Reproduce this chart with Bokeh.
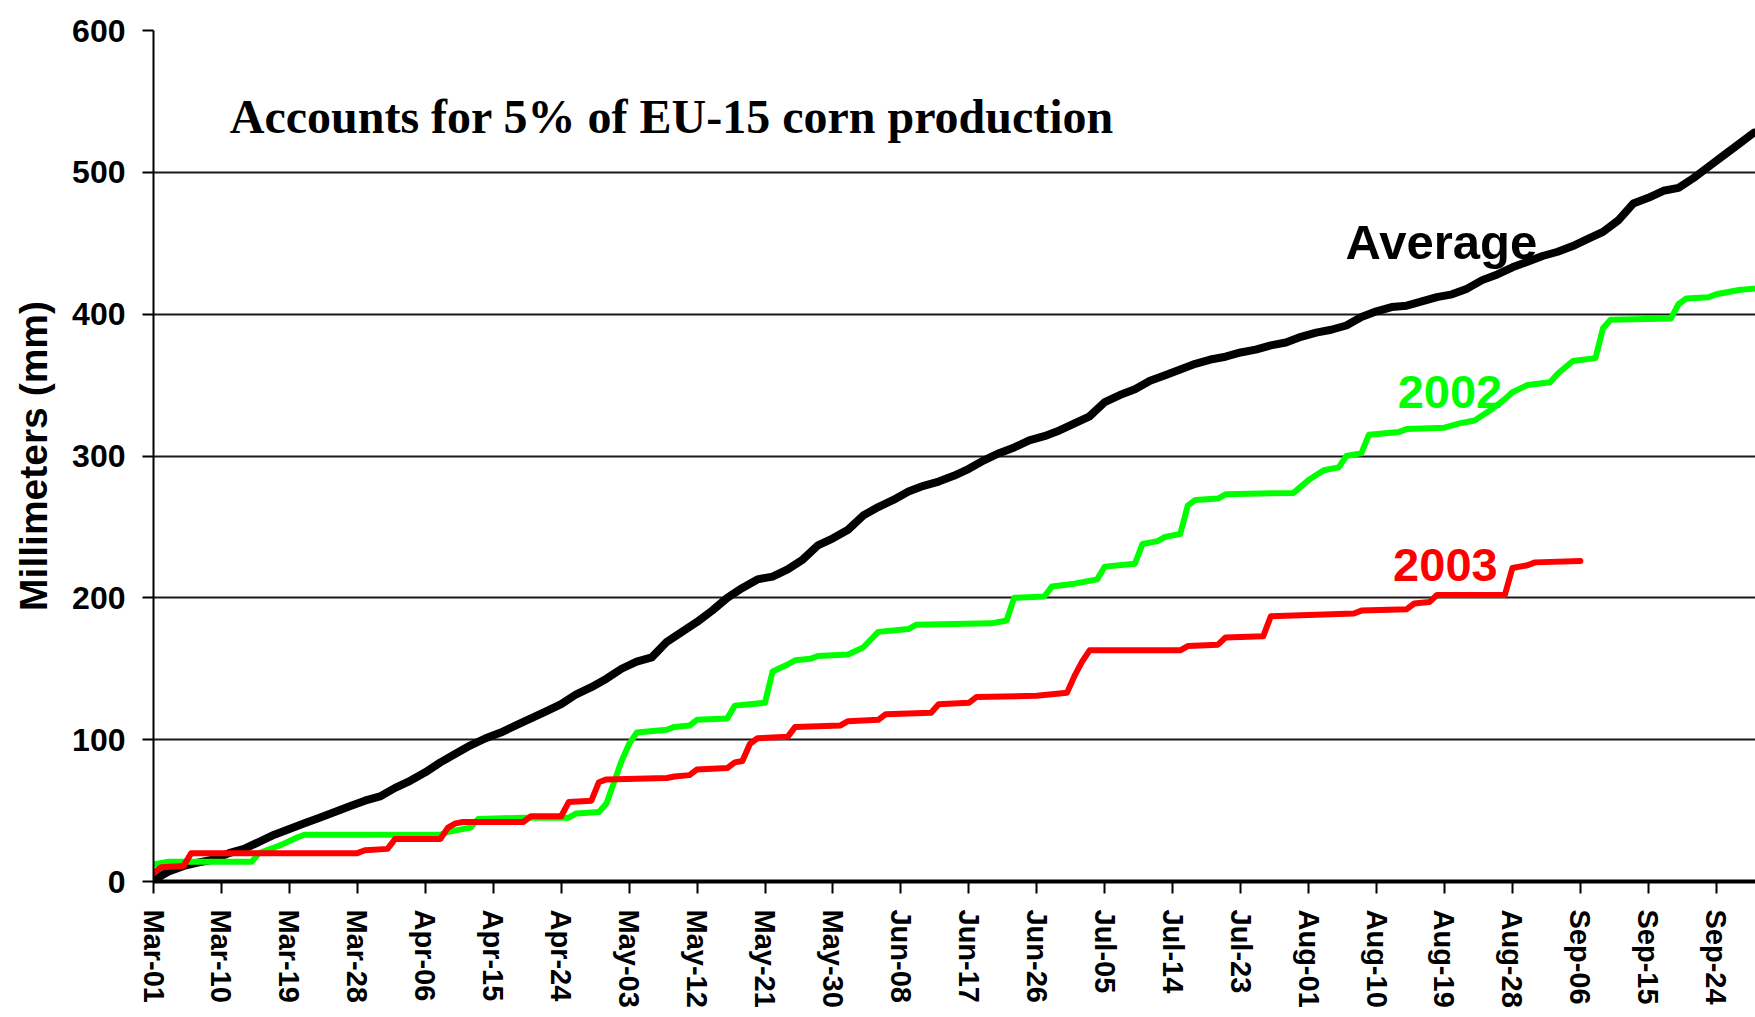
from bokeh.plotting import figure
from bokeh.models import Range1d, FixedTicker, Label
from bokeh.embed import file_html
from bokeh.resources import INLINE

# ---- data (day index from Mar-01, cumulative precipitation in mm) ----
tick_days = [0, 9, 18, 27, 36, 45, 54, 63, 72, 81, 90, 99, 108, 117, 126, 135,
             144, 153, 162, 171, 180, 189, 198, 207]
tick_labels = ["Mar-01", "Mar-10", "Mar-19", "Mar-28", "Apr-06", "Apr-15", "Apr-24",
               "May-03", "May-12", "May-21", "May-30", "Jun-08", "Jun-17", "Jun-26",
               "Jul-05", "Jul-14", "Jul-23", "Aug-01", "Aug-10", "Aug-19", "Aug-28",
               "Sep-06", "Sep-15", "Sep-24"]
y_ticks = [0, 100, 200, 300, 400, 500, 600]

avg_days = [0, 1, 2, 4, 6, 8, 10, 12, 14, 16, 18, 20, 22, 24, 26, 28, 30, 32, 34, 36,
            38, 40, 42, 44, 46, 48, 50, 52, 54, 56, 58, 60, 62, 64, 66, 68, 70, 72, 74,
            76, 78, 80, 82, 84, 86, 88, 90, 92, 94, 96, 98, 100, 102, 104, 106, 108,
            110, 112, 114, 116, 118, 120, 122, 124, 126, 128, 130, 132, 134, 136, 138,
            140, 142, 144, 146, 148, 150, 152, 154, 156, 158, 160, 162, 164, 166, 168,
            170, 172, 174, 176, 178, 180, 182, 184, 186, 188, 190, 192, 194, 196, 198,
            200, 202, 204, 206, 208, 210, 212]
avg_mm = [0, 4, 7, 11, 13.5, 15.5, 20, 23, 28, 33, 37, 41, 45, 49, 53, 57, 60, 66, 71, 77,
          84, 90, 96, 101, 105, 110, 115, 120, 125, 132, 137, 143, 150, 155, 158, 169, 176,
          183, 191, 200, 207, 213, 215, 220, 227, 237, 242, 248, 258, 264, 269, 275, 279,
          282, 286, 291, 297, 302, 306, 311, 314, 318, 323, 328, 338, 343, 347, 353, 357,
          361, 365, 368, 370, 373, 375, 378, 380, 384, 387, 389, 392, 398, 402, 405, 406,
          409, 412, 414, 418, 424, 428, 433, 437, 441, 444, 448, 453, 458, 466, 478, 482,
          487, 489, 496, 504, 512, 520, 528]

y2002_days = [0, 2, 13, 14, 16, 17, 19, 20, 38, 39, 42, 43, 49, 55, 56, 59, 60, 61, 62,
              63, 64, 68, 69, 71, 72, 76, 77, 81, 82, 84, 85, 87, 88, 92, 94, 96, 100,
              101, 111, 113, 114, 118, 119, 122, 125, 126, 130, 131, 133, 134, 136, 137,
              138, 141, 142, 151, 153, 155, 157, 158, 160, 161, 165, 166, 171, 173, 175,
              177, 179, 180, 182, 185, 186, 188, 191, 192, 193, 201, 202, 203, 206, 207,
              210, 212]
y2002_mm = [12, 14, 14, 20, 24, 26, 31, 33, 33, 35, 38, 44, 45, 45, 48, 49, 55, 70, 85,
            97, 105, 107, 109, 110, 114, 115, 124, 126, 148, 153, 156, 157, 159, 160, 165,
            176, 178, 181, 182, 184, 200, 201, 208, 210, 213, 222, 224, 238, 240, 243, 245,
            265, 269, 270, 273, 274, 283, 290, 292, 300, 302, 315, 317, 319, 320, 323, 325,
            332, 340, 345, 350, 352, 358, 367, 369, 390, 396, 397, 407, 411, 412, 414, 417,
            418]

y2003_days = [0, 1, 4, 5, 27, 28, 31, 32, 38, 39, 40, 41, 49, 50, 54, 55, 58, 59, 60, 68,
              69, 71, 72, 76, 77, 78, 79, 80, 84, 85, 91, 92, 96, 97, 103, 104, 108, 109,
              117, 121, 122, 123, 124, 136, 137, 141, 142, 147, 148, 159, 160, 166, 167,
              169, 170, 179, 180, 182, 183, 189]
y2003_mm = [6, 10, 11, 20, 20, 22, 23, 30, 30, 38, 41, 42, 42, 46, 46, 56, 57, 70, 72, 73,
            74, 75, 79, 80, 84, 85, 97, 101, 102, 109, 110, 113, 114, 118, 119, 125, 126,
            130, 131, 133, 145, 155, 163, 163, 166, 167, 172, 173, 187, 189, 191, 192, 196,
            197, 202, 202, 221, 223, 225, 226]

title_text = "Accounts for 5% of EU-15 corn production"
y_axis_title = "Millimeters (mm)"

# ---- figure ----
p = figure(width=1755, height=1010, output_backend="svg", toolbar_location=None,
           x_range=Range1d(0, 212.2), y_range=Range1d(0, 600),
           min_border_left=153, min_border_top=30, min_border_right=0,
           min_border_bottom=128)
p.outline_line_color = None
p.background_fill_color = "white"
p.border_fill_color = "white"

p.line(avg_days, avg_mm, line_color="black", line_width=8, line_cap="round",
       line_join="round")
p.line(y2002_days, y2002_mm, line_color="#00FF00", line_width=6, line_cap="round",
       line_join="round")
p.line(y2003_days, y2003_mm, line_color="#FF0000", line_width=6, line_cap="round",
       line_join="round")

# grid
p.xgrid.visible = False
p.ygrid.ticker = FixedTicker(ticks=y_ticks)
p.ygrid.grid_line_color = "black"
p.ygrid.grid_line_width = 2
p.ygrid.grid_line_alpha = 0.9

# x axis
p.xaxis.ticker = FixedTicker(ticks=tick_days)
p.xaxis.major_label_overrides = {d: s for d, s in zip(tick_days, tick_labels)}
p.xaxis.major_label_orientation = "vertical"
p.xaxis.major_label_text_font = "Liberation Sans"
p.xaxis.major_label_text_font_style = "bold"
p.xaxis.major_label_text_font_size = "29px"
p.xaxis.major_label_text_color = "black"
p.xaxis.major_label_standoff = 16
p.xaxis.axis_line_width = 4
p.xaxis.axis_line_color = "black"
p.xaxis.major_tick_out = 12
p.xaxis.major_tick_in = 0
p.xaxis.major_tick_line_width = 2
p.xaxis.minor_tick_line_color = None

# y axis
p.yaxis.ticker = FixedTicker(ticks=y_ticks)
p.yaxis.major_label_text_font = "Liberation Sans"
p.yaxis.major_label_text_font_style = "bold"
p.yaxis.major_label_text_font_size = "32px"
p.yaxis.major_label_text_color = "black"
p.yaxis.major_label_standoff = 17
p.yaxis.axis_line_width = 2
p.yaxis.axis_line_color = "black"
p.yaxis.major_tick_out = 11
p.yaxis.major_tick_in = 0
p.yaxis.major_tick_line_width = 2
p.yaxis.minor_tick_line_color = None
p.yaxis.axis_label = y_axis_title
p.yaxis.axis_label_text_font = "Liberation Sans"
p.yaxis.axis_label_text_font_style = "bold"
p.yaxis.axis_label_text_font_size = "39px"
p.yaxis.axis_label_text_color = "black"
p.yaxis.axis_label_standoff = 14

# texts inside the plot
p.add_layout(Label(x=10.1, y=539.5, text=title_text, text_font="Liberation Serif",
                   text_font_style="bold", text_font_size="48px", text_color="black",
                   text_baseline="alphabetic", text_align="left"))
p.add_layout(Label(x=157.9, y=450.9, text="Average", text_font="Liberation Sans",
                   text_font_style="bold", text_font_size="49px", text_color="black",
                   text_baseline="alphabetic", text_align="left"))
p.add_layout(Label(x=164.8, y=345.0, text="2002", text_font="Liberation Sans",
                   text_font_style="bold", text_font_size="47px", text_color="#00FF00",
                   text_baseline="alphabetic", text_align="left"))
p.add_layout(Label(x=164.2, y=223.2, text="2003", text_font="Liberation Sans",
                   text_font_style="bold", text_font_size="47px", text_color="#FF0000",
                   text_baseline="alphabetic", text_align="left"))

open("out.html", "w").write(file_html(p, INLINE))
